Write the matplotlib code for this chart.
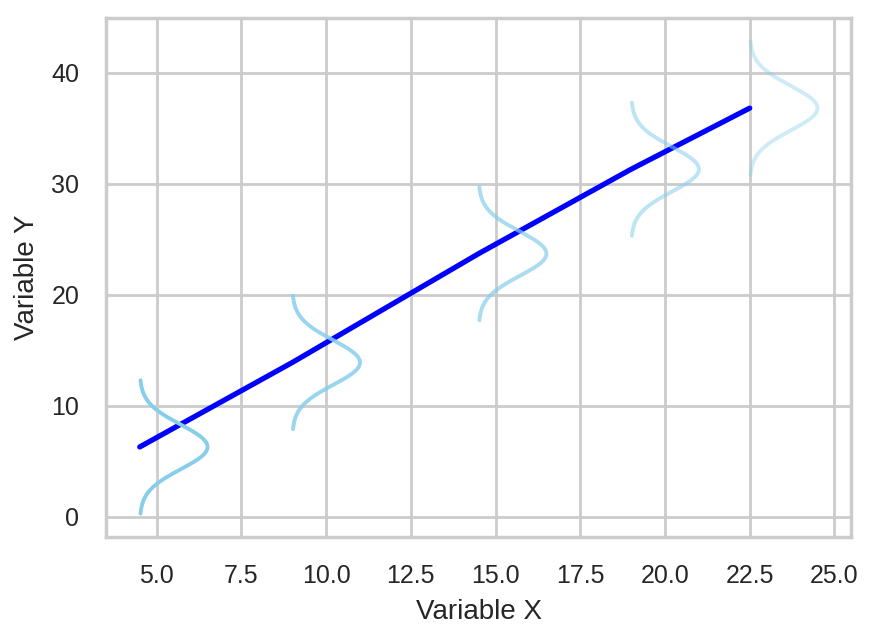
import matplotlib
matplotlib.use("Agg")
import matplotlib.pyplot as plt
import numpy as np
import seaborn as sns

sns.set_theme(style="whitegrid")
plt.rcParams['font.family'] = ['Liberation Sans', 'DejaVu Sans']

# points along the line and the spread drawn at each of them
x_points = [4.5, 9.0, 14.5, 19.0, 22.5]
y_means = [6.3, 13.9, 23.7, 31.3, 36.8]
sigma = 2.0
curve_alpha = [1.0, 0.85, 0.7, 0.55, 0.4]

fig, ax = plt.subplots(figsize=(4.375, 3.19), dpi=200)

ax.plot(x_points, y_means, color="blue", lw=1.9)

for x0, mu, a in zip(x_points, y_means, curve_alpha):
    yy = np.linspace(mu - 3 * sigma, mu + 3 * sigma, 200)
    xx = x0 + 2.0 * np.exp(-(yy - mu) ** 2 / (2 * sigma ** 2))
    ax.plot(xx, yy, color="skyblue", alpha=a, lw=1.4)

ax.set_xlabel("Variable X", fontsize=10)
ax.set_ylabel("Variable Y", fontsize=10)
ax.tick_params(labelsize=9)

fig.subplots_adjust(left=0.121, right=0.973, top=0.972, bottom=0.158)
plt.savefig("out.png", dpi=200)
